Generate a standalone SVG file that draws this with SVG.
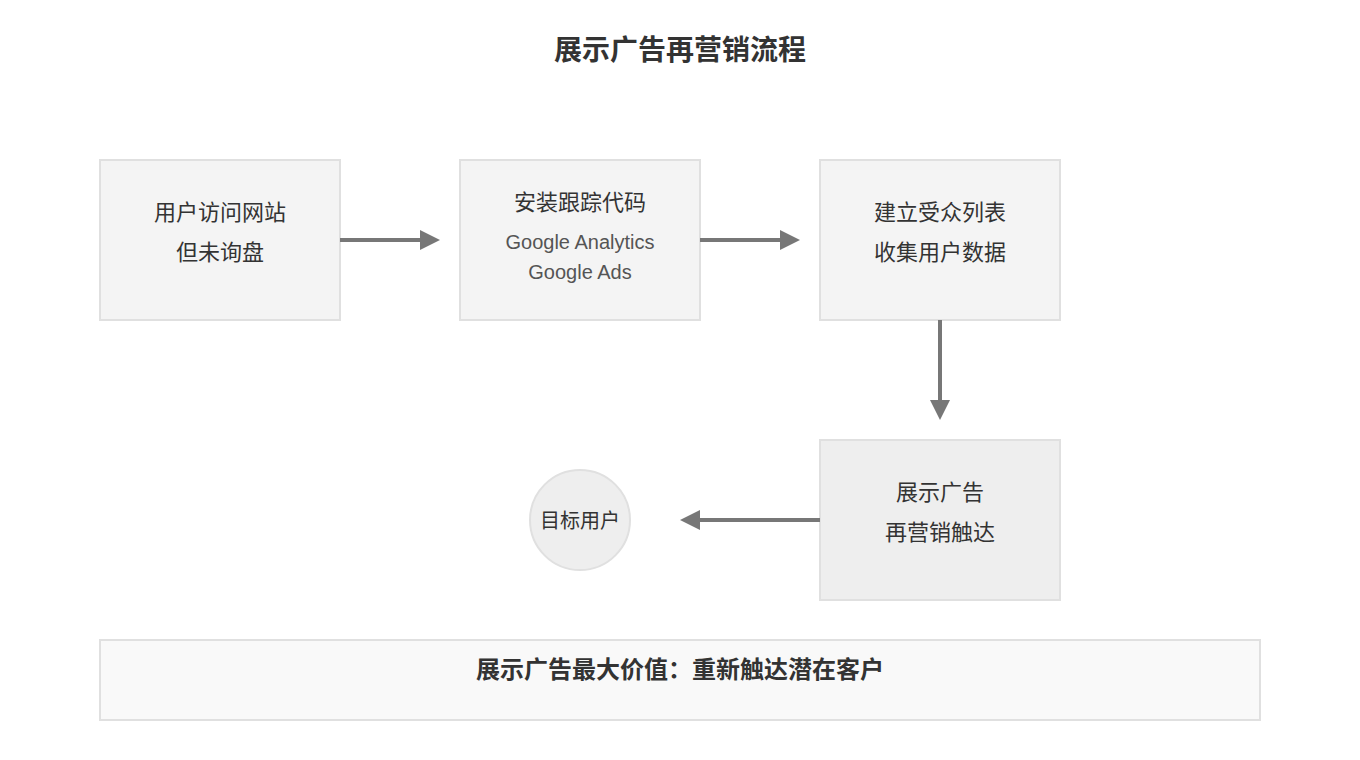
<svg xmlns="http://www.w3.org/2000/svg" width="1360" height="760" viewBox="0 0 1360 760">
<style>
text{font-family:"Noto Sans CJK SC","Liberation Sans",sans-serif;text-anchor:middle;fill:#333}
.box{fill:#f4f4f4;stroke:#e0e0e0;stroke-width:2}
.t{font-size:22px}
.s{font-size:20px;fill:#555;font-family:"Liberation Sans","Noto Sans CJK SC",sans-serif}
.c{stroke:#777;stroke-width:4;fill:none;marker-end:url(#a)}
</style>
<defs><marker id="a" markerWidth="20" markerHeight="20" refX="0" refY="10" orient="auto" markerUnits="userSpaceOnUse"><path d="M0,0L20,10L0,20Z" fill="#777"/></marker></defs>
<rect width="1360" height="760" fill="#fff"/>
<text x="680" y="60" font-size="28" font-weight="bold" fill="#111">展示广告再营销流程</text>
<g id="n1"><rect class="box" x="100" y="160" width="240" height="160"/><text class="t" x="220" y="220">用户访问网站</text><text class="t" x="220" y="260">但未询盘</text></g>
<g id="n2"><rect class="box" x="460" y="160" width="240" height="160"/><text class="t" x="580" y="210">安装跟踪代码</text><text class="s" x="580" y="249">Google Analytics</text><text class="s" x="580" y="279">Google Ads</text></g>
<g id="n3"><rect class="box" x="820" y="160" width="240" height="160"/><text class="t" x="940" y="220">建立受众列表</text><text class="t" x="940" y="260">收集用户数据</text></g>
<g id="n4"><rect x="820" y="440" width="240" height="160" fill="#eeeeee" stroke="#e0e0e0" stroke-width="2"/><text class="t" x="940" y="500">展示广告</text><text class="t" x="940" y="540">再营销触达</text></g>
<g id="n5"><circle cx="580" cy="520" r="50" fill="#eeeeee" stroke="#e0e0e0" stroke-width="2"/><text x="580" y="528" font-size="20">目标用户</text></g>
<g id="n6"><rect x="100" y="640" width="1160" height="80" fill="#f9f9f9" stroke="#e0e0e0" stroke-width="2"/><text x="680" y="678" font-size="24" font-weight="bold" fill="#111">展示广告最大价值：重新触达潜在客户</text></g>
<g id="connectors">
<path class="c" d="M340,240H420"/>
<path class="c" d="M700,240H780"/>
<path class="c" d="M940,320V400"/>
<path class="c" d="M820,520H700"/>
</g>
</svg>
